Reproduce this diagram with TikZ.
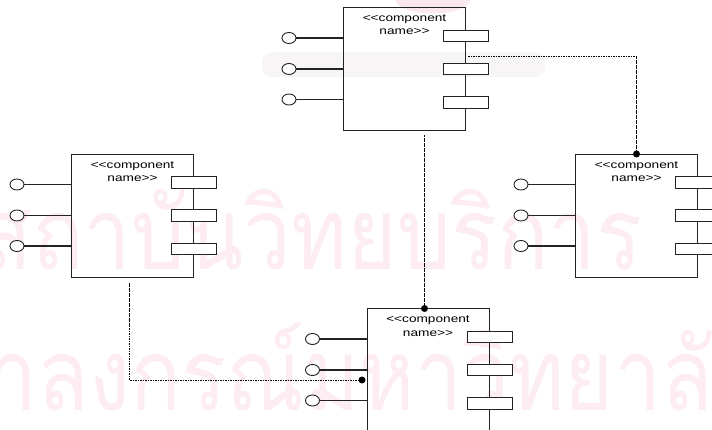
\documentclass[tikz,border=0pt]{standalone}
\usepackage{fontspec}
\setmainfont{Liberation Sans}
\newfontfamily\thaifont[Script=Thai]{Loma}
\usetikzlibrary{shapes.geometric}

\definecolor{wm}{RGB}{253,237,242}
\definecolor{crest}{RGB}{248,245,246}
\definecolor{crown}{RGB}{251,232,237}
\definecolor{ink}{RGB}{35,35,35}

\tikzset{
  comp/.style={draw=ink, line width=1pt, minimum width=122pt, minimum height=123pt,
    inner sep=0pt, anchor=north west},
  port/.style={draw=ink, fill=white, line width=0.9pt, minimum width=45pt,
    minimum height=11.5pt, inner sep=0pt},
  lolly/.style={draw=ink, fill=white, ellipse, line width=0.9pt, minimum width=14pt,
    minimum height=11pt, inner sep=0pt},
  wire/.style={ink, line width=1.1pt},
  dep/.style={black, line width=0.8pt, dash pattern=on 1.6pt off 0.9pt},
  joint/.style={circle, fill=black, minimum size=7pt, inner sep=0pt},
  stereo/.style={font=\fontsize{10.5}{12}\selectfont, inner sep=0pt, anchor=base},
  wmtext/.style={text=wm, font=\thaifont\fontsize{100}{100}\selectfont, inner sep=0pt},
}

% one component: box, three provided interfaces on the left, three ports on the right
\newcommand\umlcomp[3]{%
  \node[comp] (#1) at (#2,#3) {};
  \foreach \k/\dy in {1/30.5,2/61.5,3/92}{
    \node[lolly] (#1-i\k) at ([xshift=-54pt,yshift=-\dy pt]#1.north west) {};
    \draw[wire] (#1-i\k.east) -- (#1-i\k.east -| #1.west);
  }
  \foreach \k/\dy in {1/28.5,2/61.5,3/95}{
    \node[port] (#1-p\k) at ([yshift=-\dy pt]#1.north east) {};
  }
  \node[stereo] (#1-t1) at ([yshift=-14.5pt]#1.north) {\scalebox{1.3}[1]{<\kern0pt<component}};
  \node[stereo] (#1-t2) at ([yshift=-27.5pt]#1.north) {\scalebox{1.3}[1]{name>\kern0pt>}};
}

\begin{document}
\begin{tikzpicture}[x=1pt, y=-1pt]
  \useasboundingbox (0,0) rectangle (712,430);
  \clip (0,0) rectangle (712,430);
  \fill[white] (0,0) rectangle (712,430);

  % faint crest behind the upper component
  \fill[crest, rounded corners=10pt] (262,52) rectangle (545,77);
  \fill[crown] (395,0) .. controls (400,18) and (465,18) .. (470,0) -- cycle;

  % background lettering
  \node[wmtext, anchor=base east] (wm1) at (642,270) {\scalebox{0.85}[1]{สถาบันวิทยบริการ}};
  \node[wmtext, anchor=base east] (wm2) at (762,410) {\scalebox{0.84}[1]{จุฬาลงกรณ์มหาวิทยาลัย}};

  % components
  \umlcomp{top}{343}{7.5}
  \umlcomp{left}{71}{154}
  \umlcomp{right}{575}{154}
  \umlcomp{bottom}{366.5}{308.5}

  % dependency joints
  \node[joint] (j1) at (right.north) {};
  \node[joint] (j2) at ([xshift=-3.5pt]bottom.north) {};
  \node[joint] (j3) at ([xshift=-4.5pt,yshift=-71.5pt]bottom.north west) {};

  % dependency lines
  \coordinate (c1) at ([xshift=2pt,yshift=-48.5pt]top.north east);
  \coordinate (c2) at (j2 |- top.south);
  \coordinate (c3) at ([xshift=-2.7pt,yshift=-5pt]left.south);
  \draw[dep] (c1) -| (j1);
  \draw[dep] ([yshift=-4pt]c2) -- (j2);
  \draw[dep] (c3) |- (j3);
\end{tikzpicture}
\end{document}
